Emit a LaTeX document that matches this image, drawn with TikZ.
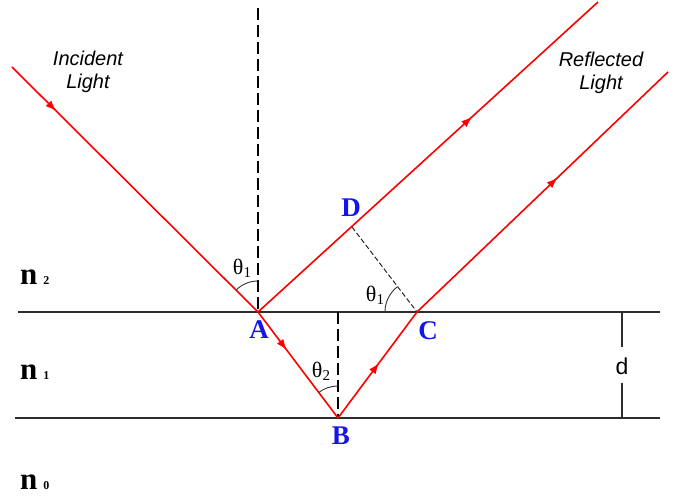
\documentclass[tikz,border=0pt]{standalone}
\usepackage{fontspec}
\setmainfont{Liberation Serif}
\newfontfamily\lsans{Liberation Sans}
\usetikzlibrary{decorations.markings,arrows.meta}
\definecolor{rayred}{RGB}{255,0,0}
\definecolor{lblue}{RGB}{20,20,235}
\definecolor{lineg}{RGB}{45,45,45}
\begin{document}
\begin{tikzpicture}[x=1pt,y=1pt,
  ray/.style={draw=rayred,line width=1.6pt},
  midarrow/.style={decoration={markings,mark=at position #1 with {\arrow[rayred]{Latex[length=11pt,width=8pt]}}},postaction=decorate},
  surface/.style={draw=lineg,line width=2pt},
  normalline/.style={draw=black,line width=1.3pt,dash pattern=on 12pt off 5pt},
  thinDash/.style={draw=black!85,line width=1pt,dash pattern=on 5pt off 2.5pt},
  anglearc/.style={draw=black!80,line width=0.9pt},
  ptlabel/.style={text=lblue,font=\fontsize{27}{27}\selectfont\bfseries,inner sep=0pt},
  lightlabel/.style={font=\lsans\itshape\fontsize{20}{23}\selectfont,align=center,inner sep=0pt},
  idx/.style={font=\fontsize{31}{31}\selectfont\bfseries,inner sep=0pt},
  anglelabel/.style={font=\fontsize{22}{22}\selectfont,inner sep=0pt}]
\useasboundingbox (0,0) rectangle (675,497);
% key points
\coordinate (A) at (258,185);
\coordinate (B) at (338,79);
\coordinate (C) at (417,185);
\coordinate (D) at (352,270);
\coordinate (I0) at (12,430);
\coordinate (R1) at (598,495);
\coordinate (R2) at (668,425);
\coordinate (NA) at (258,489);
\coordinate (NB) at (338,185);
\coordinate (S1a) at (18,185);
\coordinate (S1b) at (660,185);
\coordinate (S2a) at (15,79);
\coordinate (S2b) at (660,79);
\coordinate (dT) at (622,185);
\coordinate (dB) at (622,79);
% surfaces
\draw[surface] (S1a) -- (S1b);
\draw[surface] (S2a) -- (S2b);
% thickness marker
\node[font=\lsans\fontsize{23}{23}\selectfont,inner sep=0pt] (dlab) at (622,131) {d};
\draw[surface] (dT) -- ([yshift=10pt]dlab.north);
\draw[surface] (dB) -- ([yshift=-8pt]dlab.south);
% normals
\draw[normalline] (NA) -- (A);
\draw[normalline] (NB) -- (B);
\draw[thinDash] (D) -- (C);
% rays
\draw[ray,midarrow=0.18] (I0) -- (A);
\draw[ray,midarrow=0.36] (A) -- (B);
\draw[ray,midarrow=0.52] (B) -- (C);
\draw[ray,midarrow=0.63] (A) -- (R1);
\draw[ray,midarrow=0.56] (C) -- (R2);
% angle arcs
\draw[anglearc] ([shift={(90:31)}]A) arc[start angle=90,end angle=135,radius=31];
\draw[anglearc] ([shift={(127.5:32)}]C) arc[start angle=127.5,end angle=180,radius=32];
\draw[anglearc] ([shift={(90:32)}]B) arc[start angle=90,end angle=127,radius=32];
% angle labels
\node[anglelabel] (t1a) at (242,229) {θ\raisebox{-3pt}{\fontsize{15}{15}\selectfont 1}};
\node[anglelabel] (t1c) at (375,202) {θ\raisebox{-3pt}{\fontsize{15}{15}\selectfont 1}};
\node[anglelabel] (t2b) at (321,126) {θ\raisebox{-3pt}{\fontsize{15}{15}\selectfont 2}};
% point labels
\node[ptlabel] (lA) at (259,167) {A};
\node[ptlabel] (lB) at (341,61) {B};
\node[ptlabel] (lC) at (428,166) {C};
\node[ptlabel] (lD) at (351,289) {D};
% light labels
\node[lightlabel] (inc) at (88,425) {Incident\\Light};
\node[lightlabel] (ref) at (601,424) {Reflected\\Light};
% indices
\node[idx,anchor=west] (n2) at (20,220) {n\hspace{6pt}{\fontsize{12}{12}\selectfont 2}};
\node[idx,anchor=west] (n1) at (20,125) {n\hspace{6pt}{\fontsize{12}{12}\selectfont 1}};
\node[idx,anchor=west] (n0) at (20,15) {n\hspace{6pt}{\fontsize{12}{12}\selectfont 0}};
\end{tikzpicture}
\end{document}
